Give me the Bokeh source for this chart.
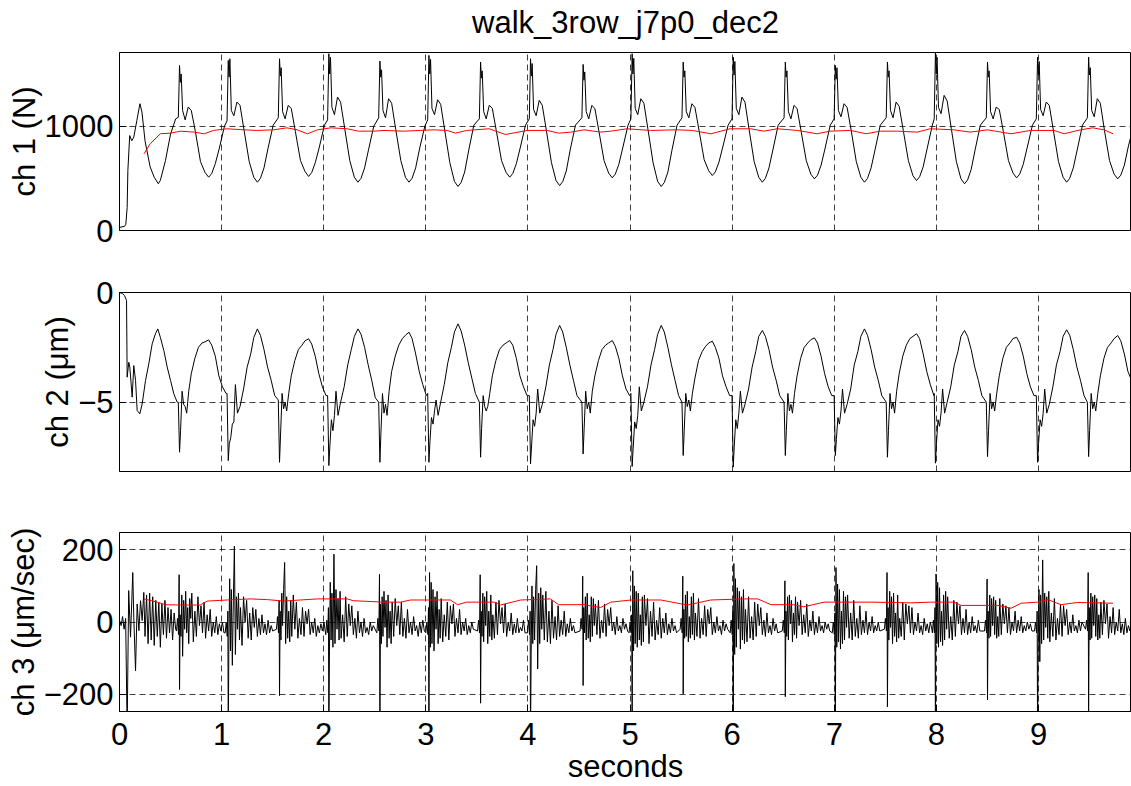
from bokeh.plotting import figure
from bokeh.layouts import column
from bokeh.models import Range1d, FixedTicker, LinearAxis
from bokeh.embed import file_html
from bokeh.resources import INLINE

FONT = "Liberation Sans"

# ---------------- data ----------------
title_text = "walk_3row_j7p0_dec2"
x_label = "seconds"
x_ticks = [0, 1, 2, 3, 4, 5, 6, 7, 8, 9]
ch1_ticks = [0, 1000]
ch2_ticks = [-5, 0]
ch3_ticks = [-200, 0, 200]

# heel-strike times (s) of each step
step_t = [0.588, 1.065, 1.567, 2.05, 2.55, 3.03, 3.536, 4.025, 4.54, 5.02,
          5.52, 6.01, 6.52, 7.01, 7.52, 7.99, 8.50, 8.99, 9.49]

# ch 1 (N): start-up segment, then per-step samples at offsets from step_t
ch1_pre_t = [0.0, 0.05, 0.062, 0.075, 0.082, 0.10, 0.12, 0.14, 0.17, 0.20,
             0.22, 0.25, 0.30, 0.34, 0.38, 0.40, 0.45, 0.50, 0.55]
ch1_pre_v = [30, 40, 60, 220, 575, 910, 860, 895, 1055, 1215,
             1135, 860, 610, 510, 448, 480, 670, 925, 1070]
ch1_off = [-0.012, 0.0, 0.008, 0.016, 0.03, 0.055, 0.085, 0.115, 0.155, 0.205,
           0.25, 0.285, 0.315, 0.35, 0.39, 0.44]
ch1_steps = [
    [1085, 1582, 1420, 1500, 1150, 1060, 1183, 1150, 950, 660, 556, 511, 546, 640, 790, 1000],
    [1050, 1630, 1470, 1646, 1150, 1100, 1231, 1200, 960, 660, 510, 463, 500, 600, 790, 1010],
    [1080, 1646, 1480, 1560, 1140, 1070, 1199, 1170, 950, 670, 565, 518, 555, 650, 800, 1010],
    [1060, 1694, 1500, 1660, 1180, 1110, 1279, 1230, 980, 670, 510, 463, 500, 600, 780, 1000],
    [1080, 1624, 1470, 1540, 1150, 1080, 1263, 1220, 970, 670, 510, 463, 500, 600, 790, 1000],
    [1060, 1678, 1500, 1640, 1170, 1110, 1253, 1210, 960, 650, 470, 422, 460, 560, 770, 1010],
    [1070, 1614, 1460, 1530, 1140, 1070, 1200, 1170, 950, 670, 556, 511, 546, 640, 800, 1010],
    [1070, 1646, 1480, 1600, 1160, 1100, 1247, 1200, 960, 650, 478, 431, 468, 570, 780, 1010],
    [1080, 1592, 1440, 1520, 1140, 1070, 1199, 1170, 950, 670, 550, 505, 540, 635, 800, 1010],
    [1070, 1694, 1500, 1650, 1170, 1110, 1263, 1220, 970, 650, 470, 422, 460, 560, 770, 1010],
    [1080, 1614, 1470, 1530, 1140, 1080, 1215, 1180, 960, 680, 572, 527, 562, 655, 810, 1010],
    [1070, 1662, 1490, 1620, 1170, 1110, 1279, 1230, 970, 660, 510, 463, 500, 600, 780, 1010],
    [1080, 1614, 1470, 1530, 1140, 1070, 1199, 1170, 950, 670, 540, 495, 530, 625, 790, 1010],
    [1070, 1582, 1450, 1560, 1150, 1090, 1215, 1180, 960, 660, 510, 463, 500, 600, 780, 1010],
    [1080, 1614, 1470, 1530, 1150, 1080, 1231, 1190, 960, 670, 525, 479, 515, 610, 790, 1010],
    [1070, 1700, 1500, 1660, 1180, 1120, 1295, 1240, 980, 660, 495, 448, 485, 585, 780, 1010],
    [1080, 1614, 1470, 1530, 1140, 1070, 1183, 1160, 950, 670, 550, 505, 540, 635, 800, 1010],
    [1070, 1662, 1490, 1620, 1160, 1100, 1231, 1200, 960, 660, 510, 463, 500, 600, 780, 1010],
    [1080, 1662, 1490, 1560, 1150, 1090, 1263, 1220, 960, 670, 540, 495, 530, 625, 810, 1000],
]
# ch 1 running mean (red)
ch1_avg_t = [0.24, 0.30, 0.40, 0.50, 0.60, 0.73, 0.83, 0.92, 1.05, 1.22,
             1.35, 1.51, 1.64, 1.74, 1.84, 1.94, 2.07, 2.23, 2.34, 2.49,
             2.59, 2.78, 2.95, 3.08, 3.21, 3.29, 3.40, 3.62, 3.78, 3.99,
             4.19, 4.30, 4.42, 4.55, 4.71, 4.81, 4.97, 5.20, 5.46, 5.61,
             5.79, 5.98, 6.18, 6.31, 6.44, 6.64, 6.83, 6.96, 7.16, 7.31,
             7.45, 7.62, 7.81, 7.94, 8.17, 8.33, 8.50, 8.73, 8.92, 9.15,
             9.25, 9.41, 9.53, 9.64, 9.73]
ch1_avg_v = [735, 831, 927, 933, 952, 943, 927, 959, 975, 965,
             959, 965, 984, 965, 927, 965, 984, 975, 952, 952,
             959, 952, 959, 965, 959, 933, 959, 975, 920, 959,
             959, 933, 943, 965, 943, 952, 975, 959, 965, 959,
             927, 975, 975, 952, 975, 959, 927, 952, 959, 927,
             952, 952, 943, 975, 965, 943, 965, 927, 959, 959,
             927, 965, 984, 965, 927]

# ch 2 (um)
ch2_pre_t = [0.0, 0.03, 0.049, 0.069, 0.075, 0.091, 0.101, 0.124, 0.14, 0.157,
             0.173, 0.199, 0.222, 0.255, 0.287, 0.32, 0.352, 0.375, 0.40, 0.434,
             0.467, 0.50, 0.532, 0.565]
ch2_pre_v = [0.0, -0.05, -0.14, -0.36, -3.86, -3.18, -3.40, -4.77, -3.33, -4.01,
             -5.38, -5.53, -5.08, -4.01, -3.25, -2.34, -1.88, -1.66, -2.04, -2.64,
             -3.40, -4.01, -4.62, -5.0]
ch2_off = [-0.012, 0.0, 0.01, 0.025, 0.04, 0.055, 0.07, 0.09, 0.115, 0.15,
           0.185, 0.22, 0.25, 0.285, 0.315, 0.35, 0.385, 0.42, 0.455]
ch2_steps = [
    [-5.0, -7.28, -6.3, -4.5, -5.1, -5.2, -5.5, -4.5, -3.7, -3.0, -2.5, -2.3, -2.25, -2.16, -2.4, -2.9, -3.8, -4.3, -4.6],
    [-4.6, -7.66, -6.9, -6.6, -6.0, -5.9, -4.2, -5.5, -5.2, -4.4, -3.4, -2.8, -2.05, -1.66, -1.95, -2.6, -3.4, -4.0, -4.7],
    [-4.9, -7.74, -6.5, -4.6, -5.3, -5.0, -5.4, -4.6, -3.8, -3.1, -2.6, -2.4, -2.2, -2.11, -2.35, -2.9, -3.7, -4.3, -4.7],
    [-4.7, -7.89, -7.0, -5.8, -6.3, -5.6, -4.5, -5.6, -5.0, -4.3, -3.3, -2.6, -2.0, -1.66, -1.9, -2.5, -3.3, -4.0, -4.8],
    [-5.0, -7.74, -6.4, -4.6, -5.5, -5.1, -5.6, -4.5, -3.6, -2.9, -2.4, -2.1, -1.95, -1.81, -2.1, -2.8, -3.6, -4.2, -4.7],
    [-4.6, -7.74, -6.8, -5.7, -6.0, -5.4, -4.9, -5.6, -5.0, -4.2, -3.2, -2.5, -1.8, -1.43, -1.75, -2.4, -3.2, -3.9, -4.6],
    [-5.0, -7.51, -6.2, -4.7, -5.2, -5.4, -5.2, -4.6, -3.8, -3.1, -2.6, -2.4, -2.3, -2.19, -2.4, -3.0, -3.8, -4.3, -4.7],
    [-4.7, -7.81, -7.0, -5.8, -6.1, -5.5, -4.4, -5.5, -5.1, -4.3, -3.3, -2.6, -1.9, -1.50, -1.8, -2.5, -3.3, -4.0, -4.7],
    [-5.0, -7.36, -6.2, -4.5, -5.3, -5.0, -5.5, -4.5, -3.8, -3.1, -2.6, -2.4, -2.3, -2.19, -2.45, -3.0, -3.8, -4.4, -4.7],
    [-4.6, -7.93, -7.1, -5.9, -6.2, -5.6, -4.3, -5.4, -5.0, -4.3, -3.3, -2.6, -1.9, -1.50, -1.8, -2.5, -3.3, -4.0, -4.7],
    [-5.0, -7.43, -6.3, -4.6, -5.2, -4.9, -5.4, -4.6, -3.9, -3.1, -2.7, -2.45, -2.3, -2.22, -2.5, -3.0, -3.8, -4.3, -4.7],
    [-4.7, -7.96, -7.0, -5.8, -6.2, -5.5, -4.5, -5.5, -5.1, -4.4, -3.4, -2.7, -2.0, -1.73, -2.0, -2.6, -3.4, -4.0, -4.7],
    [-5.0, -7.43, -6.3, -4.6, -5.4, -5.1, -5.5, -4.6, -3.8, -3.0, -2.5, -2.3, -2.15, -2.07, -2.3, -2.9, -3.7, -4.3, -4.7],
    [-4.7, -7.43, -6.7, -5.7, -6.0, -5.4, -4.4, -5.5, -5.1, -4.4, -3.3, -2.7, -2.0, -1.66, -1.95, -2.6, -3.4, -4.0, -4.7],
    [-5.0, -7.51, -6.3, -4.6, -5.3, -5.0, -5.5, -4.5, -3.7, -2.9, -2.4, -2.1, -2.0, -1.88, -2.1, -2.8, -3.6, -4.2, -4.7],
    [-4.6, -7.78, -6.9, -5.8, -6.1, -5.5, -4.4, -5.5, -5.0, -4.3, -3.3, -2.7, -2.0, -1.73, -2.0, -2.6, -3.4, -4.0, -4.7],
    [-5.0, -7.48, -6.3, -4.6, -5.3, -5.0, -5.4, -4.6, -3.8, -3.0, -2.5, -2.3, -2.1, -2.04, -2.3, -2.9, -3.7, -4.3, -4.7],
    [-4.7, -7.74, -6.9, -5.8, -6.1, -5.5, -4.4, -5.5, -5.1, -4.3, -3.3, -2.7, -2.0, -1.70, -1.95, -2.6, -3.4, -4.0, -4.7],
    [-5.0, -7.48, -6.3, -4.6, -5.3, -5.0, -5.4, -4.6, -3.8, -3.0, -2.5, -2.3, -2.1, -1.96, -2.2, -2.8, -3.6, -4.0, -4.2],
]

# ch 3 (um/sec)
ch3_pre_t = [0.0, 0.016, 0.03, 0.045, 0.06, 0.075, 0.09, 0.108, 0.13, 0.14,
             0.157, 0.173, 0.19, 0.206, 0.222, 0.238, 0.25, 0.265, 0.28, 0.295,
             0.31, 0.325, 0.34, 0.355, 0.37, 0.385, 0.40, 0.415, 0.43, 0.445,
             0.46, 0.475, 0.49, 0.505, 0.52, 0.535, 0.55]
ch3_pre_v = [5, -10, 15, -20, 10, -300, 87, -42, 137, 12,
             -135, 50, -24, 59, 4, 82, -40, 75, -60, 80,
             -50, 70, -65, 60, -40, 55, -70, 50, -35, 60,
             -45, 40, -30, 35, -50, 25, -20]
ch3_off = [-0.03, -0.02, -0.01, -0.004, 0.0, 0.006, 0.014, 0.022, 0.03, 0.04,
           0.05, 0.06, 0.07, 0.08, 0.09, 0.10, 0.11, 0.12, 0.135, 0.15,
           0.165, 0.18, 0.195, 0.21, 0.225, 0.24, 0.255, 0.27, 0.285, 0.30,
           0.315, 0.33, 0.345, 0.36, 0.375, 0.39, 0.405, 0.42, 0.435]
ch3_steps = [
    [-25, 10, -35, 131, -187, 20, -40, 75, -95, 60, -20, 85, -30, 40, -60, 65, 10, 80, -55, 30, -40, 70, -10, 45, -30, 55, -45, 20, -25, 35, -40, 0, -30, 15, -35, -5, -25, 0, -30],
    [-30, 0, -40, 30, -320, -60, 120, -80, 90, -120, 60, 210, -90, 70, -20, 80, -50, 40, -65, 70, 0, 60, -45, 25, -50, 40, -15, 35, -40, 10, -35, 20, -30, -5, -35, 5, -30, -10, -25],
    [-20, 15, -30, 60, -204, 30, -50, 80, -10, 90, 165, -60, 70, -45, 30, -55, 60, -40, 75, -20, 55, -45, 10, -35, 40, -40, 30, -5, 35, -35, 0, -30, 10, -40, -10, -30, -5, -25, 0],
    [-35, 5, -30, 40, -320, -80, 110, -50, 80, -70, 188, -60, 90, -20, 65, -50, 85, -45, 20, -55, 70, -40, 50, -10, 45, -35, 10, -45, 30, -30, 0, -40, 10, -30, -15, -35, 0, -25, -10],
    [-30, 10, -25, 132, -280, 50, -60, 70, -40, 85, -15, 60, -70, 75, -45, 30, -60, 55, -40, 65, -10, 45, -35, 55, -40, 10, -45, 35, -30, 0, -35, 15, -25, -10, -40, 0, -30, 5, -25],
    [-30, 0, -35, 40, -320, 137, -70, 110, -60, 90, -80, 70, -20, 85, -60, 35, -45, 65, -55, 20, -40, 55, -50, 45, -5, 50, -40, 10, -30, 35, -35, 0, -25, 10, -35, -10, -30, 0, -20],
    [-25, 5, -30, 131, -225, 30, -40, 80, -55, 70, -10, 85, -60, 30, -40, 75, -50, 20, -45, 55, -35, 60, -5, 40, -30, 50, -40, 0, -25, 25, -35, -5, -30, 10, -30, -15, -25, 5, -30],
    [-30, 5, -35, 30, -320, -90, 100, -60, 70, -50, 90, 156, -130, 80, -60, 95, -20, 75, -50, 85, -55, 30, -60, 60, -45, 15, -50, 45, -40, 5, -35, 30, -40, -5, -30, 10, -25, -10, -30],
    [-25, 10, -20, 127, -176, 40, -30, 70, -50, 80, -45, 20, -55, 70, -40, 65, -10, 50, -35, 60, -45, 5, -30, 50, -40, 35, -10, 40, -25, 0, -35, 15, -25, -10, -30, 10, -20, -5, -25],
    [-30, 0, -30, 20, -320, 142, -80, 100, -60, 85, -70, 80, -50, 20, -65, 70, -55, 75, -10, 65, -60, 30, -40, 55, -50, 5, -35, 40, -45, 10, -30, 25, -35, -5, -30, 10, -25, -10, -30],
    [-20, 10, -30, 127, -199, 35, -45, 75, -40, 85, -55, 15, -45, 70, -35, 80, -50, 25, -40, 65, -45, 10, -35, 45, -40, 35, -5, 40, -35, 0, -30, 15, -25, -10, -35, 5, -25, -5, -20],
    [-30, 5, -35, 30, -320, 162, -90, 120, -70, 95, -20, 85, -75, 70, -50, 90, -60, 35, -55, 70, -45, 15, -50, 55, -40, 50, -10, 40, -35, 5, -40, 25, -30, -10, -35, 10, -25, -5, -30],
    [-25, 5, -30, 114, -207, 30, -40, 70, -50, 75, -5, 60, -55, 25, -35, 70, -45, 55, -10, 60, -35, 20, -30, 50, -40, 5, -25, 30, -35, 0, -30, 15, -25, -10, -30, 0, -20, -5, -25],
    [-30, 0, -35, 25, -320, 151, -70, 105, -55, 90, -75, 30, -60, 85, -50, 70, -15, 75, -45, 25, -50, 60, -40, 10, -45, 45, -35, 5, -30, 30, -35, 0, -25, 15, -30, -10, -25, 0, -25],
    [-20, 10, -25, 137, -235, 40, -50, 85, -15, 70, -60, 80, -40, 25, -55, 75, -45, 10, -40, 55, -50, 50, -5, 45, -30, 40, -35, 0, -25, 25, -30, -10, -35, 10, -25, -5, -30, 0, -20],
    [-30, 5, -30, 40, -320, 133, -60, 110, -70, 95, -55, 30, -65, 75, -50, 85, -20, 70, -45, 15, -50, 60, -40, 55, -5, 45, -35, 10, -30, 35, -35, 0, -30, 15, -25, -10, -30, 5, -25],
    [-25, 5, -30, 119, -216, 30, -45, 75, -40, 65, -10, 70, -35, 60, -45, 15, -40, 65, -35, 50, -5, 45, -30, 40, -35, 0, -25, 30, -30, 5, -25, 15, -30, -10, -25, 0, -20, -5, -25],
    [-25, 0, -30, 30, -320, -70, 90, -110, 75, -60, 172, -50, 80, -15, 70, -45, 85, -55, 25, -40, 65, -50, 10, -35, 50, -40, 45, -10, 35, -35, 0, -30, 20, -25, -10, -30, 5, -25, 0],
    [-20, 5, -25, 137, -250, 40, -50, 80, -45, 70, -10, 75, -40, 65, -50, 20, -45, 55, -35, 60, -5, 50, -45, 15, -30, 40, -35, 0, -25, 35, -30, -5, -35, 10, -30, -10, -25, 0, -30],
]
# ch 3 running mean (red)
ch3_avg_t = [0.24, 0.37, 0.45, 0.60, 0.79, 0.86, 1.055, 1.28, 1.45, 1.61,
             1.77, 1.94, 2.23, 2.29, 2.59, 2.75, 2.85, 3.24, 3.31, 3.40,
             3.67, 3.73, 3.93, 4.22, 4.30, 4.55, 4.71, 4.81, 5.01, 5.30,
             5.56, 5.79, 6.12, 6.25, 6.38, 6.60, 6.70, 6.90, 7.36, 7.75,
             7.94, 8.17, 8.24, 8.60, 8.73, 8.83, 8.99, 9.09, 9.22, 9.38,
             9.73]
ch3_avg_v = [64, 55, 48, 47, 47, 58, 61, 64, 62, 58,
             61, 64, 64, 59, 55, 55, 61, 61, 48, 55,
             55, 47, 61, 64, 48, 48, 40, 55, 61, 61,
             47, 61, 64, 64, 48, 48, 42, 55, 55, 53,
             55, 55, 46, 46, 38, 52, 55, 62, 48, 54,
             52]


def assemble(pre_t, pre_v, offsets, steps):
    t = list(pre_t)
    v = list(pre_v)
    for s, vals in zip(step_t, steps):
        for o, val in zip(offsets, vals):
            t.append(s + o)
            v.append(val)
    return t, v


ch1_t, ch1_v = assemble(ch1_pre_t, ch1_pre_v, ch1_off, ch1_steps)
ch2_t, ch2_v = assemble(ch2_pre_t, ch2_pre_v, ch2_off, ch2_steps)
ch3_t, ch3_v = assemble(ch3_pre_t, ch3_pre_v, ch3_off, ch3_steps)

W = 1131
LEFT = 119


def make_fig(height, top, bottom, yr, yticks, ylabel, show_x):
    p = figure(width=W, height=height,
               x_range=Range1d(0, 9.91), y_range=Range1d(yr[0], yr[1]),
               output_backend="svg", toolbar_location=None,
               min_border_left=LEFT, min_border_right=0,
               min_border_top=top, min_border_bottom=bottom)
    p.background_fill_color = "white"
    p.border_fill_color = "white"
    p.outline_line_color = "black"
    p.outline_line_width = 1
    p.outline_line_alpha = 1.0
    p.xaxis.ticker = FixedTicker(ticks=x_ticks)
    p.yaxis.ticker = FixedTicker(ticks=yticks)
    p.xgrid.ticker = FixedTicker(ticks=x_ticks)
    p.ygrid.ticker = FixedTicker(ticks=yticks)
    for ax in p.axis:
        ax.major_tick_in = 7
        ax.major_tick_out = 0
        ax.minor_tick_line_color = None
        ax.axis_line_color = "black"
        ax.major_tick_line_color = "black"
        ax.major_label_text_font = FONT
        ax.major_label_text_font_size = "31px"
        ax.major_label_text_color = "black"
        ax.axis_label_text_font = FONT
        ax.axis_label_text_font_size = "31px"
        ax.axis_label_text_font_style = "normal"
        ax.axis_label_text_color = "black"
    p.yaxis.axis_label = ylabel
    p.yaxis.axis_label_standoff = 0
    p.yaxis.major_label_standoff = 6
    p.xaxis.visible = show_x
    p.grid.grid_line_color = "black"
    p.grid.grid_line_alpha = 0.75
    p.grid.grid_line_width = 1
    p.grid.grid_line_dash = "6 4"
    return p


# ch 1: frame 52..230
p1 = make_fig(261, 52, 31, (0, 1706), ch1_ticks, "ch 1 (N)", False)
# title drawn as the label of a bare axis above the panel
title_axis = LinearAxis(axis_label=title_text, ticker=FixedTicker(ticks=[]),
                        axis_line_color=None, major_tick_line_color=None,
                        minor_tick_line_color=None, major_tick_in=0, major_tick_out=0,
                        minor_tick_in=0, minor_tick_out=0, major_label_standoff=0,
                        axis_label_standoff=13, axis_label_text_font=FONT,
                        axis_label_text_font_size="31px",
                        axis_label_text_font_style="normal",
                        axis_label_text_color="black")
p1.add_layout(title_axis, "above")
p1.line(ch1_t, ch1_v, line_color="black", line_width=1)
p1.line(ch1_avg_t, ch1_avg_v, line_color="#ff0000", line_width=1)

# ch 2: frame 292..471
p2 = make_fig(240, 31, 30, (-8.16, 0), ch2_ticks, "ch 2 (\u03bcm)", False)
p2.line(ch2_t, ch2_v, line_color="black", line_width=1)

# ch 3: frame 532..711
p3 = make_fig(285, 31, 75, (-248, 248), ch3_ticks, "ch 3 (\u03bcm/sec)", True)
p3.xaxis.axis_label = x_label
p3.xaxis.major_label_standoff = 11
p3.xaxis.axis_label_standoff = 1
p3.line(ch3_t, ch3_v, line_color="black", line_width=1)
p3.line(ch3_avg_t, ch3_avg_v, line_color="#ff0000", line_width=1)

layout = column(p1, p2, p3, spacing=0)

with open("out.html", "w") as f:
    f.write(file_html(layout, INLINE))
